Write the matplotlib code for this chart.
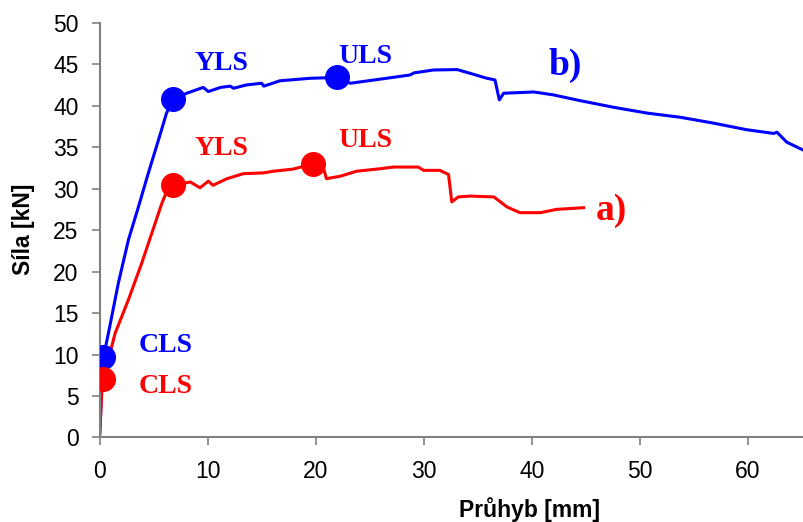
import matplotlib
matplotlib.use("Agg")
import matplotlib.pyplot as plt

# Curve b) (blue)
b_x = [0, 0.1, 0.2, 0.35, 0.82, 1.74, 2.67, 3.6, 4.5, 5.44, 6.2, 6.83, 8.07, 9.6, 10.07, 11.2, 12.1, 12.4,
       13.6, 15.0, 15.2, 16.7, 19.5, 21.96, 23.2, 26.0, 28.75, 29.1, 30.9, 33.1, 34.3, 35.85, 36.6,
       37.0, 37.4, 40.2, 42.0, 44.5, 47.6, 50.7, 53.75, 56.8, 59.9, 62.4, 62.7, 63.6, 65.2]
b_y = [0, 3.0, 6.0, 9.66, 12.55, 18.6, 23.8, 27.8, 31.8, 35.8, 39.1, 40.8, 41.5, 42.2, 41.7, 42.2, 42.35, 42.1,
       42.5, 42.7, 42.35, 43.0, 43.3, 43.4, 42.7, 43.2, 43.7, 43.95, 44.3, 44.35, 43.9, 43.3, 43.1,
       40.7, 41.5, 41.65, 41.3, 40.6, 39.8, 39.1, 38.6, 37.9, 37.1, 36.65, 36.8, 35.6, 34.6]

# Curve a) (red)
a_x = [0, 0.1, 0.2, 0.35, 1.44, 2.67, 3.9, 4.83, 5.76, 6.2, 6.83, 8.4, 9.3, 10.07, 10.5, 11.8, 13.3, 15.2,
       16.1, 17.9, 19.8, 20.7, 21.0, 22.3, 23.8, 26.0, 27.2, 29.5, 30.0, 31.5, 32.3, 32.6, 33.2, 34.3,
       36.5, 37.7, 38.9, 40.8, 42.3, 44.8]
a_y = [0, 2.5, 5.3, 7.05, 12.55, 16.6, 21.0, 24.6, 28.2, 29.6, 30.4, 30.8, 30.1, 30.9, 30.4, 31.2, 31.8, 31.9,
       32.1, 32.35, 33.0, 32.6, 31.2, 31.5, 32.1, 32.4, 32.6, 32.6, 32.2, 32.2, 31.7, 28.4, 29.0, 29.1,
       29.0, 27.8, 27.1, 27.1, 27.5, 27.7]

# Limit-state points
point_labels = ["CLS", "YLS", "ULS"]
b_pts_x = [0.35, 6.83, 21.96]
b_pts_y = [9.66, 40.8, 43.4]
a_pts_x = [0.35, 6.83, 19.8]
a_pts_y = [7.05, 30.45, 33.0]

# label anchor positions (text baseline, centred horizontally)
b_lbl_x = [6.1, 11.3, 24.6]
b_lbl_y = [10.3, 44.3, 45.1]
a_lbl_x = [6.1, 11.3, 24.6]
a_lbl_y = [5.4, 34.0, 35.0]

x_ticks = [0, 10, 20, 30, 40, 50, 60]
y_ticks = [0, 5, 10, 15, 20, 25, 30, 35, 40, 45, 50]

BLUE = "#0000ff"
RED = "#ff0000"
GREY = "#808080"

fig = plt.figure(figsize=(8.04, 5.22), dpi=100)
ax = fig.add_axes([0.1238, 0.1619, 0.8762, 0.7946])

ax.plot(b_x, b_y, color=BLUE, lw=2.2, solid_joinstyle="round")
ax.plot(a_x, a_y, color=RED, lw=2.2, solid_joinstyle="round")
ax.plot(b_pts_x, b_pts_y, "o", color=BLUE, ms=17, zorder=5)
ax.plot(a_pts_x, a_pts_y, "o", color=RED, ms=17, zorder=5)

serif = ["Liberation Serif", "DejaVu Serif"]
for lx, ly, t in zip(b_lbl_x, b_lbl_y, point_labels):
    ax.text(lx, ly, t, color=BLUE, fontsize=20, fontweight="bold", family=serif, ha="center", va="baseline")
for lx, ly, t in zip(a_lbl_x, a_lbl_y, point_labels):
    ax.text(lx, ly, t, color=RED, fontsize=20, fontweight="bold", family=serif, ha="center", va="baseline")
ax.text(43.1, 43.7, "b)", color=BLUE, fontsize=27, fontweight="bold", family=serif, ha="center", va="baseline")
ax.text(47.4, 26.2, "a)", color=RED, fontsize=27, fontweight="bold", family=serif, ha="center", va="baseline")

ax.set_xlim(0, 65.2)
ax.set_ylim(0, 50)
ax.set_xticks(x_ticks)
ax.set_yticks(y_ticks)
sans = ["Liberation Sans", "DejaVu Sans"]
ax.set_xticklabels([str(v) for v in x_ticks], family=sans, fontsize=16.5)
ax.set_yticklabels([str(v) for v in y_ticks], family=sans, fontsize=16.5)
ax.tick_params(direction="out", length=6, width=1.2, color=GREY)
ax.tick_params(axis="x", pad=10)
ax.tick_params(axis="y", pad=9)
for s in ["top", "right"]:
    ax.spines[s].set_visible(False)
for s in ["left", "bottom"]:
    ax.spines[s].set_color(GREY)
    ax.spines[s].set_linewidth(1.5)
ax.set_xlabel("Průhyb [mm]", family=sans, fontsize=16.5, fontweight="bold")
ax.set_ylabel("Síla [kN]", family=sans, fontsize=16.5, fontweight="bold")
ax.xaxis.label.set_va("center")
ax.yaxis.label.set_va("center")
ax.xaxis.set_label_coords(0.611, -0.175)
ax.yaxis.set_label_coords(-0.1086, 0.502)

fig.savefig("out.png", dpi=100)
